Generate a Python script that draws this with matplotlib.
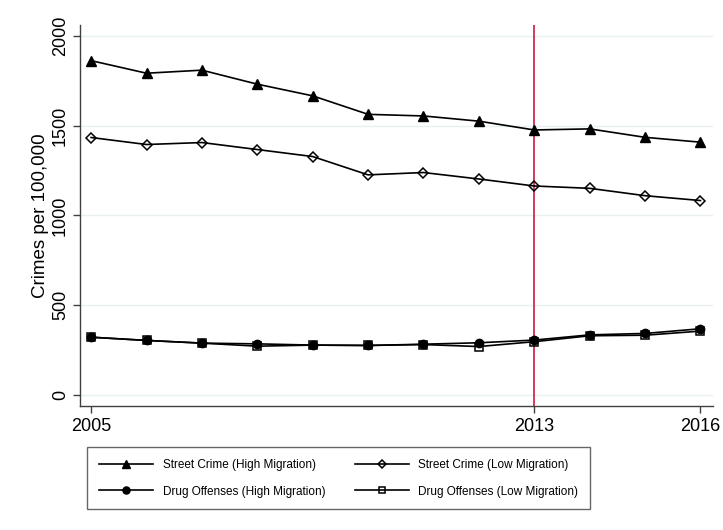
import numpy as np
import matplotlib.pyplot as plt

plt.rcParams['font.family'] = ['Liberation Sans', 'DejaVu Sans']

years = np.arange(2005, 2017)
street_high = [1862, 1792, 1809, 1731, 1666, 1563, 1554, 1525, 1476, 1482, 1435, 1408]
street_low = [1434, 1395, 1406, 1367, 1328, 1226, 1239, 1203, 1164, 1151, 1110, 1083]
drug_high = [322, 304, 289, 285, 278, 276, 283, 291, 306, 335, 343, 369]
drug_low = [322, 304, 289, 272, 278, 276, 281, 270, 297, 330, 333, 356]
labels = ['Street Crime (High Migration)', 'Street Crime (Low Migration)',
          'Drug Offenses (High Migration)', 'Drug Offenses (Low Migration)']
cutoff_year = 2013
xticks = [2005, 2013, 2016]
yticks = [0, 500, 1000, 1500, 2000]

fig = plt.figure(figsize=(7.23, 5.30), dpi=100)
ax = fig.add_axes([0.1107, 0.234, 0.875, 0.719])

for y in yticks:
    ax.axhline(y, color='#e9f0f3', lw=1.0, zorder=0)
ax.axvline(cutoff_year, color='#d23a5c', lw=1.4, zorder=1)

lw = 1.2
ax.plot(years, street_high, color='black', lw=lw, marker='^', ms=6.5,
        mfc='black', mec='black', label=labels[0], zorder=3)
ax.plot(years, street_low, color='black', lw=lw, marker='D', ms=5,
        mfc='none', mec='black', mew=1.1, label=labels[1], zorder=3)
ax.plot(years, drug_high, color='black', lw=lw, marker='o', ms=6,
        mfc='black', mec='black', label=labels[2], zorder=3)
ax.plot(years, drug_low, color='black', lw=lw, marker='s', ms=5.5,
        mfc='none', mec='black', mew=1.1, label=labels[3], zorder=4)

ax.set_xlim(2004.80, 2016.22)
ax.set_ylim(-61, 2061)
ax.set_xticks(xticks)
ax.set_yticks(yticks)
ax.set_yticklabels([str(v) for v in yticks], rotation=90, va='center')
ax.tick_params(axis='both', labelsize=13, length=5, width=1, color='#404040',
               direction='out')
ax.tick_params(axis='y', pad=3)
ax.set_ylabel('Crimes per 100,000', fontsize=13.5, labelpad=2)

for side in ['top', 'right']:
    ax.spines[side].set_visible(False)
for side in ['left', 'bottom']:
    ax.spines[side].set_color('#404040')
    ax.spines[side].set_linewidth(1.0)

# legend fills rows: street crime on top, drug offenses below
handles, lbls = ax.get_legend_handles_labels()
order = [0, 2, 1, 3]
leg = fig.legend([handles[i] for i in order], [lbls[i] for i in order],
                 loc='upper left', bbox_to_anchor=(0.1203, 0.1566), ncol=2,
                 borderaxespad=0, fontsize=8.5, frameon=True, fancybox=False,
                 edgecolor='#404040', handlelength=4.6, handletextpad=0.8,
                 columnspacing=2.5, labelspacing=1.25, borderpad=1.0,
                 markerscale=0.85)
leg.get_frame().set_linewidth(1.0)

fig.savefig('out.png', dpi=100)
